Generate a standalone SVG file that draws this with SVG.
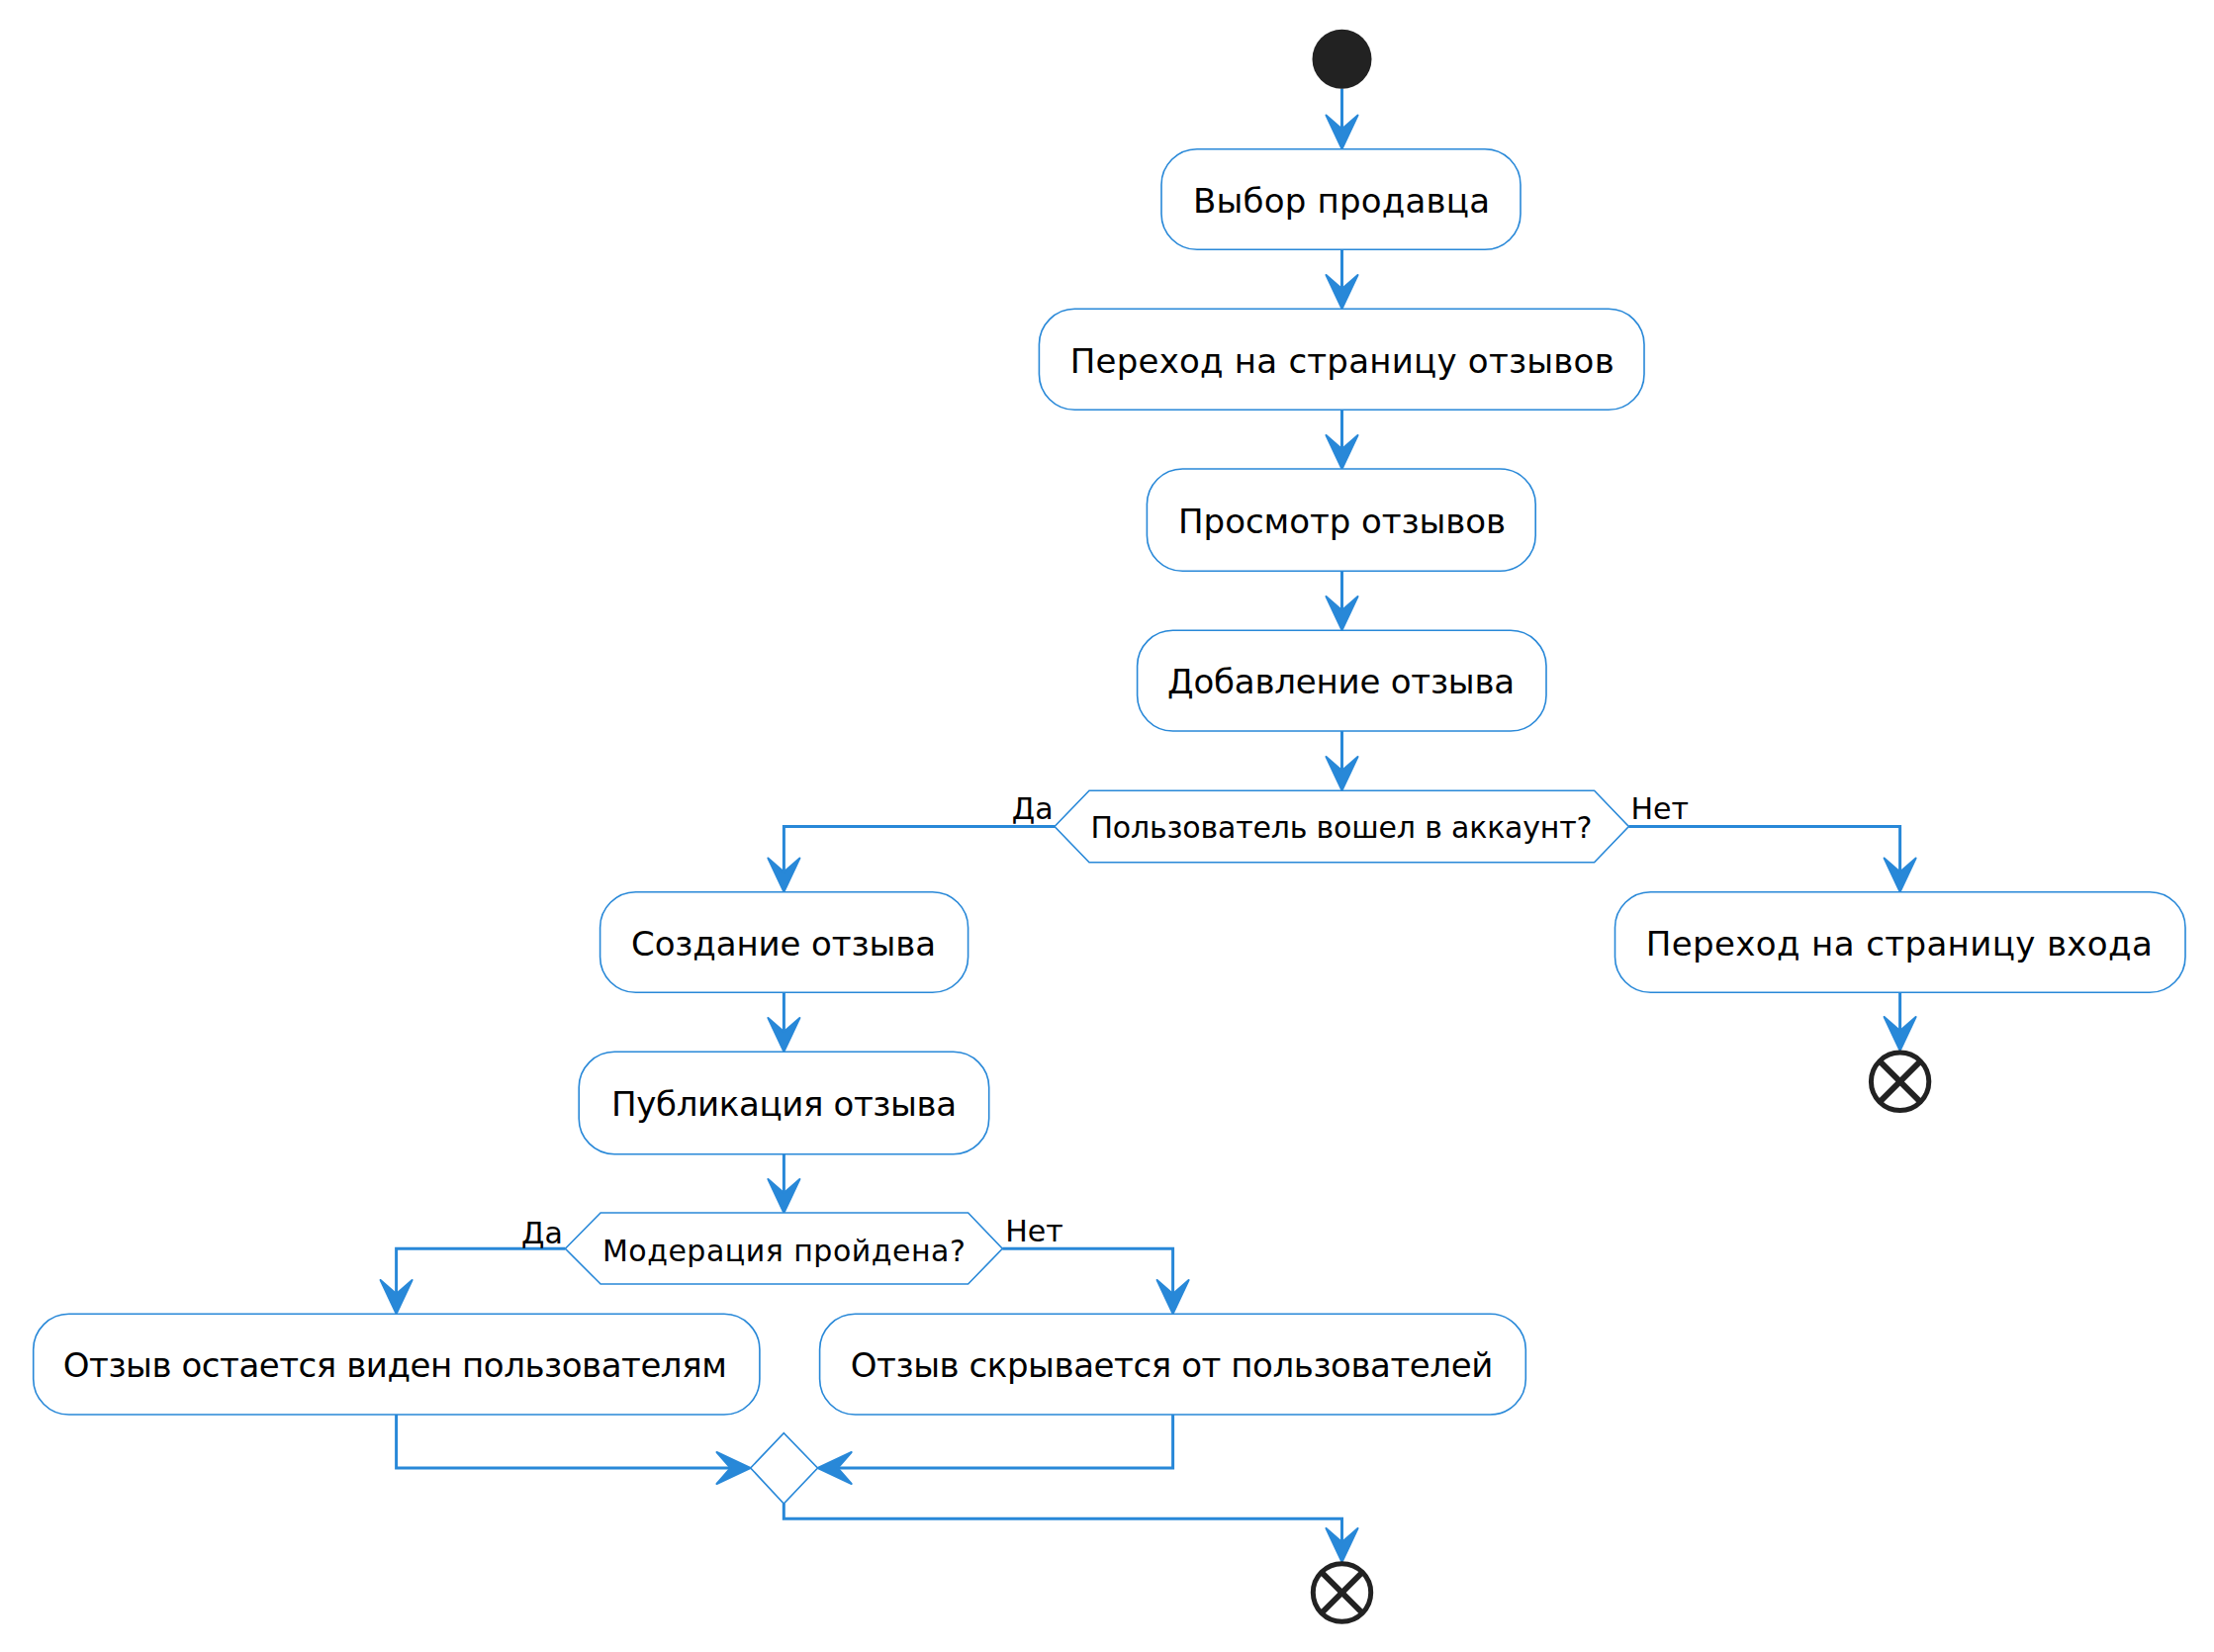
<svg xmlns="http://www.w3.org/2000/svg" xmlns:xlink="http://www.w3.org/1999/xlink" width="2238" height="1670" viewBox="0 0 2238 1670">
<defs>
<style>
.act{fill:#ffffff;stroke:#2888D8;stroke-width:1.6}
.t{font-family:"DejaVu Sans","Liberation Sans",sans-serif;font-size:34px;fill:#000000;text-anchor:middle}
.d{font-family:"DejaVu Sans","Liberation Sans",sans-serif;font-size:30px;fill:#000000;text-anchor:middle}
.lbl{font-family:"DejaVu Sans","Liberation Sans",sans-serif;font-size:30px;fill:#000000}
.c{fill:none;stroke:#2888D8;stroke-width:3}
.endc{fill:#ffffff;stroke:#222222;stroke-width:5}
.endx{stroke:#222222;stroke-width:6}
.ah{fill:#2888D8;stroke:#2888D8;stroke-width:2;stroke-linejoin:round}
</style>
<path id="ahd" class="ah" d="M0,-1 L-16,-35 L0,-21 L16,-35 Z"/>
</defs>
<rect x="0" y="0" width="2238" height="1670" fill="#ffffff"/>
<g id="connectors">
<path class="c" d="M1356.5,89.5 L1356.5,132"/>
<path class="c" d="M1356.5,252.3 L1356.5,294"/>
<path class="c" d="M1356.5,414.3 L1356.5,456"/>
<path class="c" d="M1356.5,577.3 L1356.5,619"/>
<path class="c" d="M1356.5,739 L1356.5,781"/>
<path class="c" d="M1066,835.5 L792.4,835.5 L792.4,883"/>
<path class="c" d="M1646.4,835.5 L1920.6,835.5 L1920.6,883"/>
<path class="c" d="M792.4,1003.3 L792.4,1045"/>
<path class="c" d="M1920.6,1003.3 L1920.6,1044"/>
<path class="c" d="M792.4,1166.7 L792.4,1208"/>
<path class="c" d="M571.4,1262.3 L400.6,1262.3 L400.6,1310"/>
<path class="c" d="M1013.3,1262.3 L1185.6,1262.3 L1185.6,1310"/>
<path class="c" d="M400.6,1430 L400.6,1484 L740,1484"/>
<path class="c" d="M1185.6,1430 L1185.6,1484 L845,1484"/>
<path class="c" d="M792.3,1520 L792.3,1535.3 L1356.5,1535.3 L1356.5,1561"/>
<use xlink:href="#ahd" transform="translate(1356.5,151.5)"/>
<use xlink:href="#ahd" transform="translate(1356.5,313)"/>
<use xlink:href="#ahd" transform="translate(1356.5,475)"/>
<use xlink:href="#ahd" transform="translate(1356.5,638)"/>
<use xlink:href="#ahd" transform="translate(1356.5,800)"/>
<use xlink:href="#ahd" transform="translate(792.4,902.5)"/>
<use xlink:href="#ahd" transform="translate(1920.6,902.5)"/>
<use xlink:href="#ahd" transform="translate(792.4,1064)"/>
<use xlink:href="#ahd" transform="translate(1920.6,1063)"/>
<use xlink:href="#ahd" transform="translate(792.4,1227)"/>
<use xlink:href="#ahd" transform="translate(400.6,1329)"/>
<use xlink:href="#ahd" transform="translate(1185.6,1329)"/>
<use xlink:href="#ahd" transform="translate(759.5,1484) rotate(-90)"/>
<use xlink:href="#ahd" transform="translate(825.7,1484) rotate(90)"/>
<use xlink:href="#ahd" transform="translate(1356.5,1580)"/>
</g>
<g id="start"><circle cx="1356.5" cy="59.7" r="30" fill="#222222"/></g>
<g id="a1"><rect class="act" x="1174" y="150.7" width="363" height="101.6" rx="36" ry="36"/><text class="t" x="1356" y="215" textLength="300" lengthAdjust="spacing">Выбор продавца</text></g>
<g id="a2"><rect class="act" x="1050.4" y="312.3" width="611.6" height="102" rx="36" ry="36"/><text class="t" x="1356.7" y="377" textLength="550" lengthAdjust="spacing">Переход на страницу отзывов</text></g>
<g id="a3"><rect class="act" x="1159.4" y="474" width="392.8" height="103.3" rx="36" ry="36"/><text class="t" x="1356.6" y="539.3" textLength="331" lengthAdjust="spacing">Просмотр отзывов</text></g>
<g id="a4"><rect class="act" x="1149.6" y="637.3" width="413.4" height="101.7" rx="36" ry="36"/><text class="t" x="1355.6" y="700.7" textLength="351" lengthAdjust="spacing">Добавление отзыва</text></g>
<g id="d1"><polygon class="act" points="1066,835.5 1101,799.3 1611.6,799.3 1646.4,835.5 1611.6,871.7 1101,871.7"/><text class="d" x="1356" y="847" textLength="507" lengthAdjust="spacing">Пользователь вошел в аккаунт?</text></g>
<g id="l1"><text class="lbl" x="1064.7" y="828" text-anchor="end">Да</text><text class="lbl" x="1648.5" y="828">Нет</text></g>
<g id="a5"><rect class="act" x="606.6" y="901.7" width="372" height="101.6" rx="36" ry="36"/><text class="t" x="792" y="966" textLength="308" lengthAdjust="spacing">Создание отзыва</text></g>
<g id="a6"><rect class="act" x="585.2" y="1063.3" width="414.5" height="103.4" rx="36" ry="36"/><text class="t" x="792.6" y="1128.3" textLength="349" lengthAdjust="spacing">Публикация отзыва</text></g>
<g id="a7"><rect class="act" x="1632.5" y="901.7" width="576.5" height="101.6" rx="36" ry="36"/><text class="t" x="1919.8" y="966" textLength="512" lengthAdjust="spacing">Переход на страницу входа</text></g>
<g id="end1"><circle class="endc" cx="1920.6" cy="1093.3" r="29.2"/><line class="endx" x1="1899.6" y1="1072.3" x2="1941.6" y2="1114.3"/><line class="endx" x1="1941.6" y1="1072.3" x2="1899.6" y2="1114.3"/></g>
<g id="d2"><polygon class="act" points="571.4,1262.3 607.1,1226 978.6,1226 1013.3,1262.3 978.6,1298 607.1,1298"/><text class="d" x="792.4" y="1274.5" textLength="367" lengthAdjust="spacing">Модерация пройдена?</text></g>
<g id="l2"><text class="lbl" x="568.9" y="1256.7" text-anchor="end">Да</text><text class="lbl" x="1016.3" y="1255">Нет</text></g>
<g id="a8"><rect class="act" x="33.7" y="1328.3" width="734.2" height="101.7" rx="36" ry="36"/><text class="t" x="399.3" y="1392.3" textLength="671" lengthAdjust="spacing">Отзыв остается виден пользователям</text></g>
<g id="a9"><rect class="act" x="828.6" y="1328.3" width="713.7" height="101.7" rx="36" ry="36"/><text class="t" x="1184.5" y="1392.3" textLength="649.5" lengthAdjust="spacing">Отзыв скрывается от пользователей</text></g>
<g id="merge"><polygon class="act" points="758.7,1484 792.3,1448.7 826.5,1484 792.3,1520"/></g>
<g id="end2"><circle class="endc" cx="1356.5" cy="1610" r="29.2"/><line class="endx" x1="1335.5" y1="1589" x2="1377.5" y2="1631"/><line class="endx" x1="1377.5" y1="1589" x2="1335.5" y2="1631"/></g>
</svg>
